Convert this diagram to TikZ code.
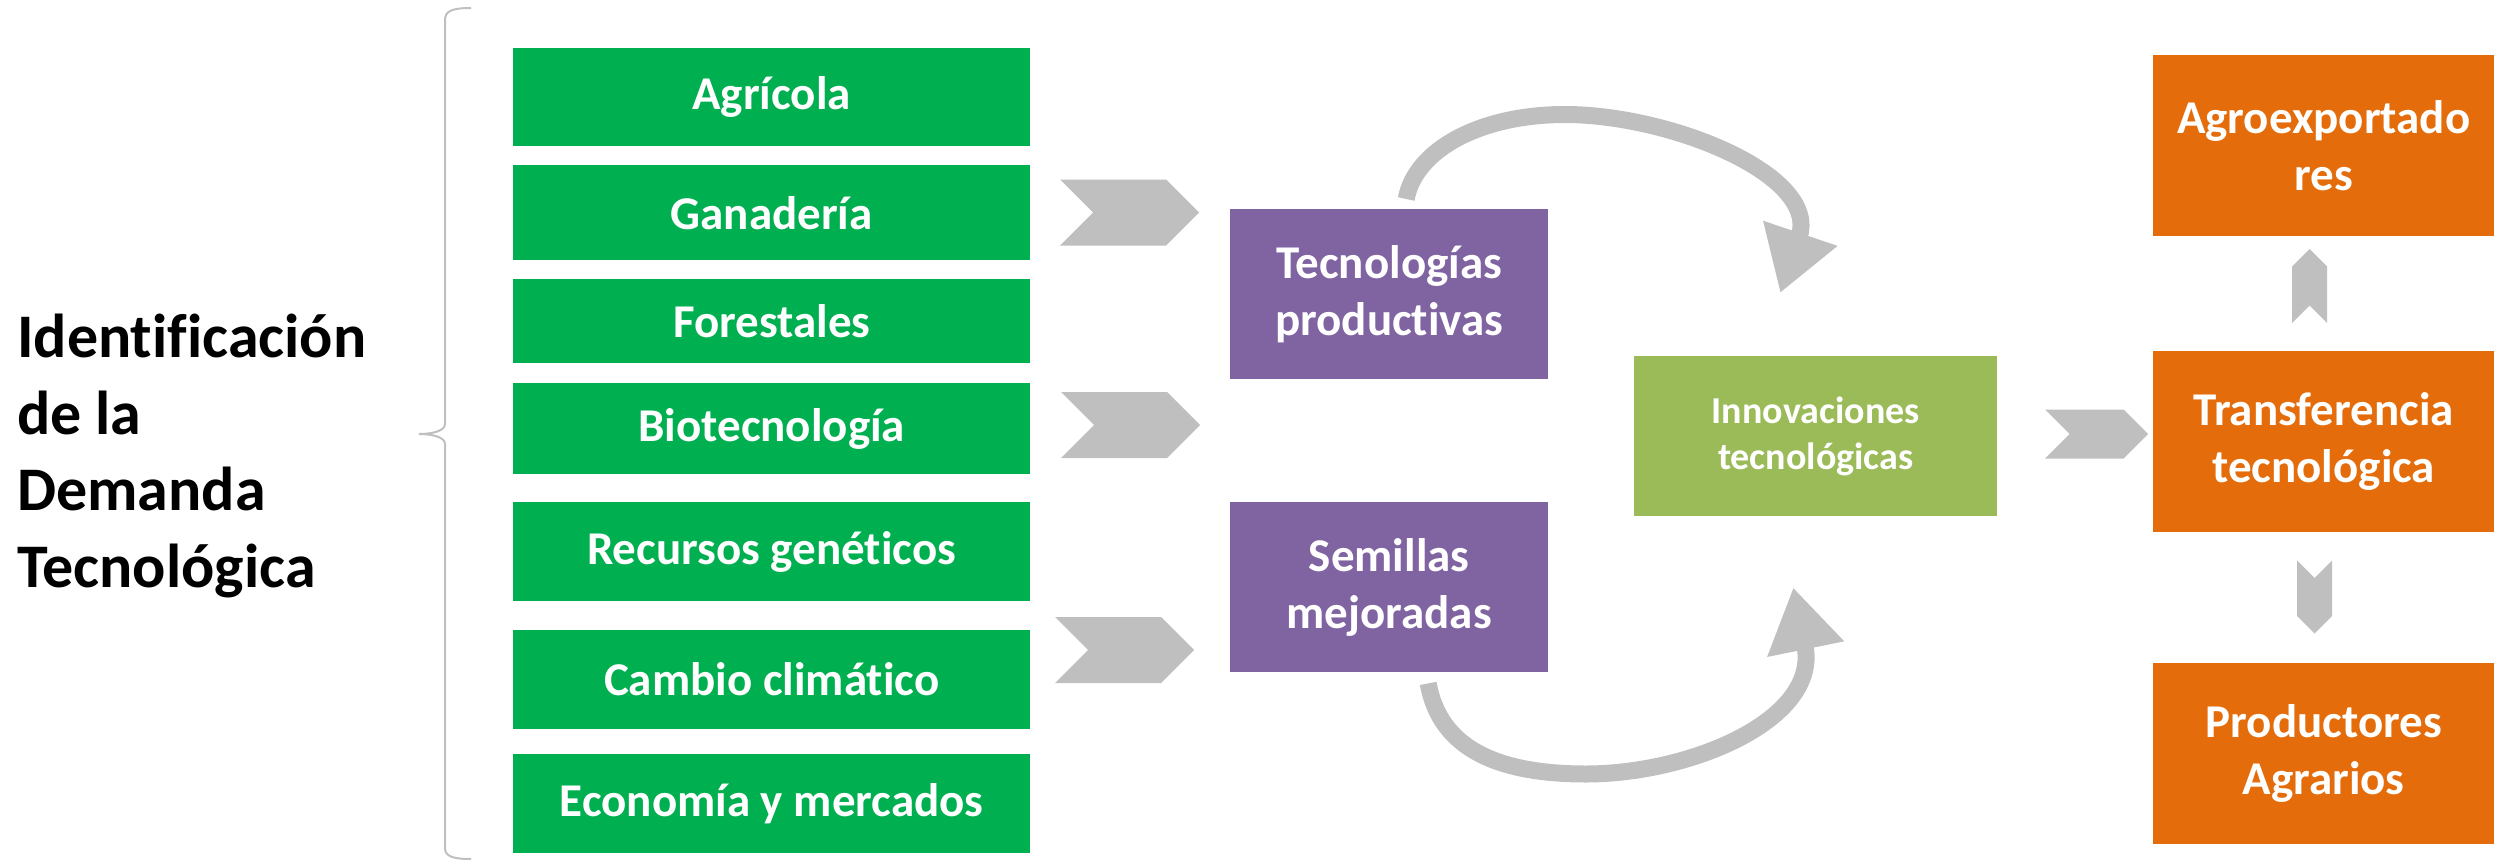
\documentclass[tikz,border=0pt]{standalone}
\usepackage{fontspec}
\setmainfont{Carlito}[Ligatures=CommonOff]
\usetikzlibrary{arrows.meta,calc}
\definecolor{cgreen}{HTML}{00B050}
\definecolor{cpurple}{HTML}{8064A2}
\definecolor{clime}{HTML}{9BBB59}
\definecolor{corange}{HTML}{E46C0A}
\definecolor{cgray}{HTML}{BFBFBF}
\definecolor{cbrace}{HTML}{BFBFBF}
\tikzset{
  box/.style={draw=none, inner sep=0pt, anchor=north west, text=white,
    font=\bfseries\fontsize{47}{57}\selectfont, align=center},
  gbox/.style={box, fill=cgreen, minimum width=517pt},
  pbox/.style={box, fill=cpurple, minimum width=318pt, minimum height=170pt},
  obox/.style={box, fill=corange, minimum width=341pt, minimum height=181pt},
  ibox/.style={box, fill=clime, minimum width=363pt, minimum height=160pt,
    font=\bfseries\fontsize{38}{46.5}\selectfont},
  curvearrow/.style={draw=cgray, line width=17pt, -{Triangle[width=74pt,length=63pt]}},
  pics/chev/.style 2 args={code={
    \fill[cgray] (-#1/2,-#2/2) -- (#1/2-#2/2,-#2/2) -- (#1/2,0) -- (#1/2-#2/2,#2/2)
      -- (-#1/2,#2/2) -- (-#1/2+#2/2,0) -- cycle;}},
}
\begin{document}
\begin{tikzpicture}[x=1pt,y=-1pt]
\useasboundingbox (0,0) rectangle (2503,862);

% title (anchor base = baseline of last line)
\node[anchor=base west, align=left, inner sep=0pt,
  font=\bfseries\fontsize{62}{76.5}\selectfont] (title) at (17,587)
  {Identificación\\de la\\Demanda\\Tecnológica};

% brace
\draw[cbrace, line width=2pt] (471,8) .. controls (452,8) and (445,11) .. (445,20)
  -- (445,424) .. controls (445,431) and (432,434) .. (419,434)
  .. controls (432,434) and (445,437) .. (445,444)
  -- (445,848) .. controls (445,856) and (452,859) .. (471,859);

% green boxes
\node[gbox, minimum height=98pt] (agr) at (513,48) {Agrícola};
\node[gbox, minimum height=95pt] (gan) at (513,165) {Ganadería};
\node[gbox, minimum height=84pt] (for) at (513,279) {Forestales};
\node[gbox, minimum height=91pt] (bio) at (513,383) {Biotecnología};
\node[gbox, minimum height=99pt] (rec) at (513,502) {Recursos genéticos};
\node[gbox, minimum height=99pt] (cam) at (513,629.5) {Cambio climático};
\node[gbox, minimum height=99pt] (eco) at (513,754) {Economía y mercados};

% purple boxes
\node[pbox] (tec) at (1230,209) {Tecnologías\\productivas};
\node[pbox] (sem) at (1230,502) {Semillas\\mejoradas};

% innovation
\node[ibox] (inn) at (1634,356) {Innovaciones\\tecnológicas};

% orange
\node[obox] (agro) at (2153,55) {Agroexportado\\res};
\node[obox] (tra) at (2153,351) {Transferencia\\tecnológica};
\node[obox] (pro) at (2153,663) {Productores\\Agrarios};

% chevrons
\pic at (1129.5,212.5) {chev={139}{66}};
\pic at (1130.5,425) {chev={139}{66}};
\pic at (1124.5,650) {chev={139}{66}};
\pic at (2096.5,434) {chev={103}{49}};
\pic[rotate=90] at (2309.5,286) {chev={74}{35}};
\pic[rotate=-90] at (2314.5,597) {chev={73}{35}};

% curved arrows
\draw[curvearrow] ($(tec.north)+(17,-10)$) .. controls (1415,150) and (1480,114.5) .. (1565,114.5)
  .. controls (1670,114.5) and (1820,175) .. ($(inn.north)+(-35.5,-63)$);
\draw[curvearrow] ($(sem.south)+(39,11)$) .. controls (1440,750) and (1500,774) .. (1586,774)
  .. controls (1690,774) and (1820,720) .. ($(inn.south)+(-22.5,71)$);
\end{tikzpicture}
\end{document}
